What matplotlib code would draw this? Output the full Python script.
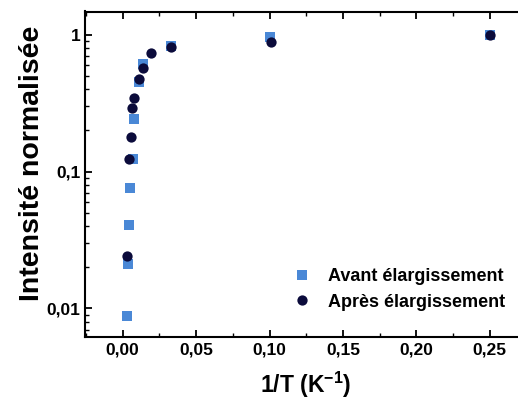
import matplotlib
matplotlib.use("Agg")
import matplotlib.pyplot as plt
from matplotlib.ticker import FuncFormatter, MultipleLocator, LogLocator, NullFormatter

plt.rcParams['font.family'] = ['Liberation Sans', 'DejaVu Sans']
plt.rcParams['font.weight'] = 'bold'
plt.rcParams['mathtext.default'] = 'regular'

# Avant elargissement (squares)
x_avant = [0.250, 0.100, 0.0328, 0.0136, 0.0108, 0.0078, 0.0072, 0.0051, 0.0042, 0.0033, 0.0029]
y_avant = [1.0, 0.967, 0.83, 0.611, 0.449, 0.243, 0.124, 0.0755, 0.0408, 0.0212, 0.0088]

# Apres elargissement (circles)
x_apres = [0.250, 0.101, 0.0328, 0.0194, 0.0140, 0.0108, 0.0078, 0.0063, 0.0054, 0.0042, 0.0031]
y_apres = [1.0, 0.89, 0.817, 0.743, 0.577, 0.475, 0.343, 0.290, 0.178, 0.124, 0.024]

xticks = [0.0, 0.05, 0.10, 0.15, 0.20, 0.25]

fig = plt.figure(figsize=(5.18, 4.01), dpi=100)
# right side of the frame runs past the picture edge, as in the original crop
ax = fig.add_axes([85/518, 1 - 337.3/401, 450/518, (337.3 - 11.5)/401])

ax.plot(x_avant, y_avant, 's', color='#4a88d6', markersize=6.5, markeredgewidth=0,
        label='Avant élargissement')
ax.plot(x_apres, y_apres, 'o', color='#0b0b3b', markersize=7.4, markeredgewidth=0,
        label='Après élargissement')

ax.set_yscale('log')
ax.set_xlim(-0.0257, 0.2808)
ax.set_ylim(0.00614, 1.484)

ax.set_xticks(xticks)
ax.xaxis.set_minor_locator(MultipleLocator(0.025))
ax.xaxis.set_major_formatter(FuncFormatter(lambda v, p: f"{v:.2f}".replace('.', ',')))
ax.yaxis.set_major_locator(LogLocator(base=10))
ax.yaxis.set_minor_locator(LogLocator(base=10, subs=range(2, 10)))
ax.yaxis.set_minor_formatter(NullFormatter())

def yfmt(v, p):
    if v >= 1:
        return f"{v:.0f}"
    s = f"{v:.10f}".rstrip('0')
    return s.replace('.', ',')
ax.yaxis.set_major_formatter(FuncFormatter(yfmt))

ax.tick_params(which='both', direction='in', top=True, right=True, labelsize=12.5)
ax.tick_params(which='major', length=5, width=1.3)
ax.tick_params(which='minor', length=3, width=1.0)
for s in ax.spines.values():
    s.set_linewidth(1.5)

ax.set_xlabel('1/T (K$^{-1}$)', fontsize=16.5, fontweight='bold')
ax.xaxis.set_label_coords(0.491, -0.1)
ax.set_ylabel('Intensité normalisée', fontsize=20.5, fontweight='bold')
ax.yaxis.set_label_coords(-0.088, 0.535)

ax.legend(loc='lower right', frameon=False, fontsize=13, handletextpad=0.45,
          labelspacing=0.45, borderaxespad=0, bbox_to_anchor=(0.949, 0.06))

fig.savefig('out.png', dpi=100)
